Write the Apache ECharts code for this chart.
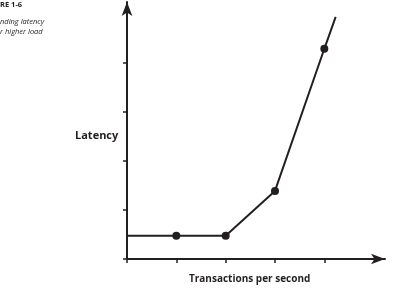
<!DOCTYPE html>
<html>
<head>
<meta charset="utf-8">
<script src="https://cdn.jsdelivr.net/npm/echarts@6/dist/echarts.min.js"></script>
<style>
  html, body { margin: 0; padding: 0; background: #fff; }
  #chart { width: 400px; height: 296px; }
</style>
</head>
<body>
<div id="chart"></div>
<script>
// transactions per second (x) and latency (y)
var tpsValues = [0, 1, 2, 3, 4, 4.23];
var latencyValues = [0.475, 0.475, 0.475, 1.39, 4.29, 4.94];
var hasMarker = [false, true, true, true, true, false]; // dots only on measured points
var tickValues = [0, 1, 2, 3, 4];

var ink = '#231f20';

var lineData = [];
for (var i = 0; i < tpsValues.length; i++) {
    lineData.push({
        value: [tpsValues[i], latencyValues[i]],
        symbol: hasMarker[i] ? 'circle' : 'none'
    });
}

var option = {
    animation: false,
    backgroundColor: '#fff',
    grid: { left: 127, right: 15, top: 2, bottom: 37 },
    xAxis: {
        type: 'value',
        min: 0,
        max: 5.23,
        axisLine: {
            lineStyle: { color: ink, width: 2 },
            symbol: ['none', 'arrow'],
            symbolSize: [8, 14]
        },
        axisTick: { customValues: tickValues, length: 4, lineStyle: { color: ink, width: 1.5 } },
        axisLabel: { show: false },
        splitLine: { show: false }
    },
    yAxis: {
        type: 'value',
        min: 0,
        max: 5.245,
        axisLine: {
            show: true,
            lineStyle: { color: ink, width: 2 },
            symbol: ['none', 'arrow'],
            symbolSize: [8, 14]
        },
        axisTick: { show: true, customValues: tickValues, length: 4, lineStyle: { color: ink, width: 1.5 } },
        axisLabel: { show: false },
        splitLine: { show: false }
    },
    series: [{
        type: 'line',
        data: lineData,
        symbolSize: 8,
        lineStyle: { color: ink, width: 2 },
        itemStyle: { color: ink },
        silent: true
    }],
    graphic: [
        { type: 'text', left: 0, top: 1, style: { text: 'RE 1-6', fontFamily: 'Open Sans', fontWeight: 'bold', fontSize: 7.5, fill: ink } },
        { type: 'text', left: 0, top: 18, style: { text: 'nding latency', fontFamily: 'Open Sans', fontStyle: 'italic', fontSize: 7.5, fill: ink } },
        { type: 'text', left: 0, top: 28, style: { text: 'r higher load', fontFamily: 'Open Sans', fontStyle: 'italic', fontSize: 7.5, fill: ink } },
        { type: 'text', left: 75, top: 130, style: { text: 'Latency', fontFamily: 'Open Sans', fontWeight: 'bold', fontSize: 11, fill: ink } },
        { type: 'text', left: 189, top: 274, style: { text: 'Transactions per second', fontFamily: 'Open Sans', fontWeight: 'bold', fontSize: 10, fill: ink } }
    ]
};

echarts.init(document.getElementById('chart')).setOption(option);
</script>
</body>
</html>
